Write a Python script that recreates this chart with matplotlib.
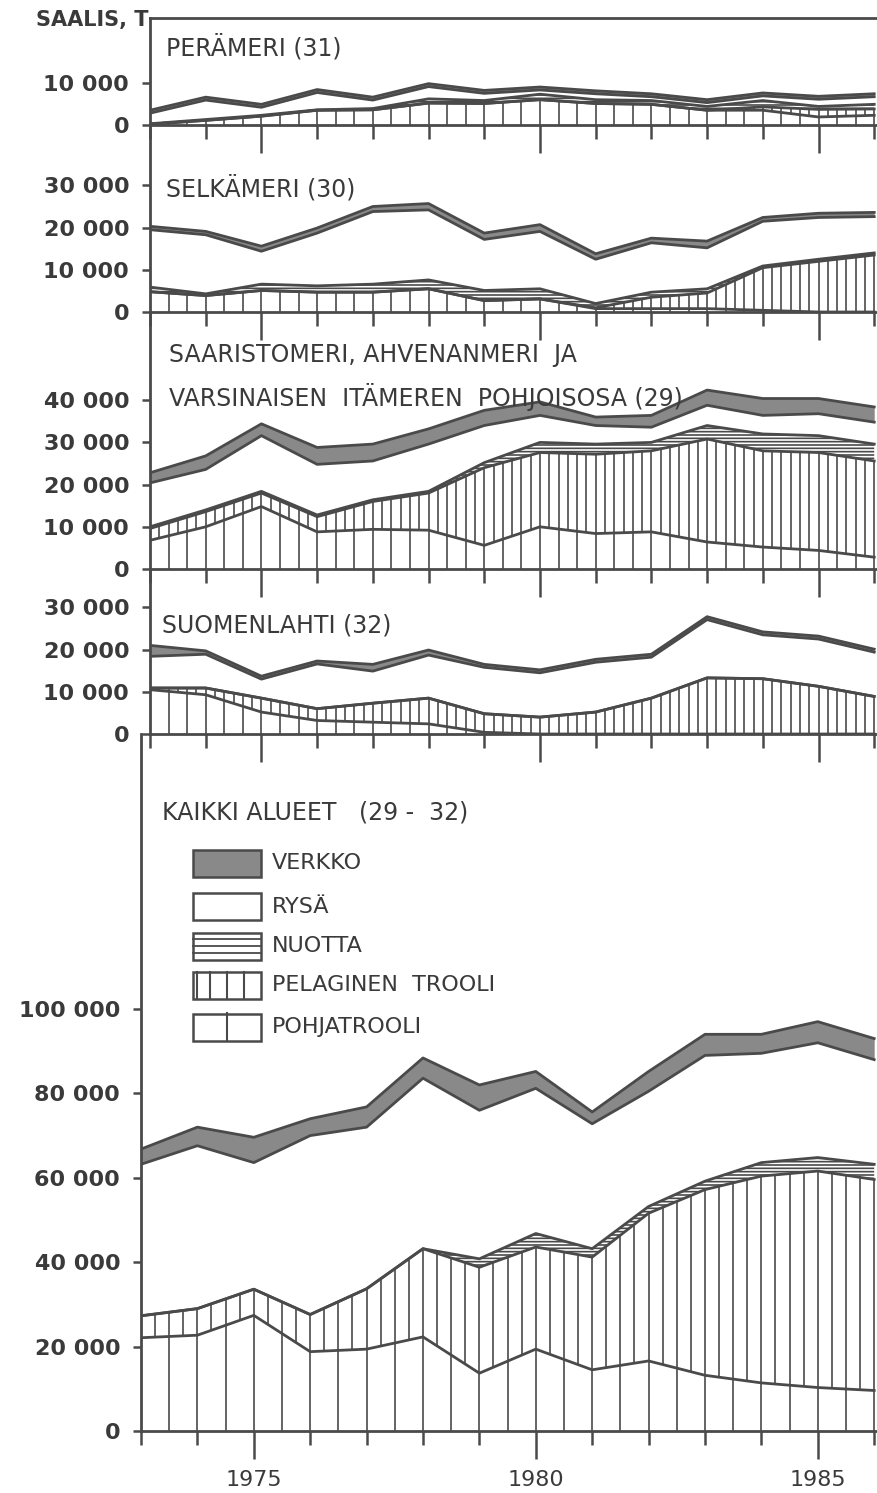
import matplotlib.pyplot as plt
import numpy as np
from matplotlib.patches import Rectangle
from matplotlib.lines import Line2D

W, H = 877, 1493
years = np.arange(1973, 1987)

# cumulative tops of the gear bands (t): pohjatrooli, pelaginen, nuotta, rysä, verkko (= total)
per_pohja = [200, 1100, 2100, 3500, 3600, 5200, 5100, 6000, 5100, 4900, 3500, 3500, 1900, 2300]
per_pelag = [200, 1100, 2100, 3500, 3600, 5200, 5100, 6000, 5100, 4900, 3500, 4300, 3700, 3800]
per_nuotta = [300, 1300, 2300, 3600, 3900, 6200, 5800, 7300, 6000, 5800, 4400, 5800, 4400, 4900]
per_rysa = [2800, 5900, 4200, 7700, 5900, 9100, 7500, 8300, 7400, 6700, 5300, 6900, 6100, 6700]
per_total = [3500, 6600, 4900, 8400, 6600, 9800, 8200, 9000, 8100, 7400, 6000, 7600, 6800, 7400]

sel_pohja = [4800, 3900, 5100, 4700, 4700, 5500, 2700, 3100, 800, 800, 800, 400, 0, 0]
sel_pelag = [4800, 3900, 5100, 4700, 4700, 5500, 2700, 3100, 1000, 3500, 4500, 10500, 12000, 13500]
sel_nuotta = [5900, 4300, 6600, 6200, 6600, 7600, 5100, 5500, 2000, 4700, 5500, 10900, 12500, 14000]
sel_rysa = [19500, 18300, 14400, 18700, 23800, 24200, 17200, 19100, 12500, 16400, 15200, 21500, 22400, 22600]
sel_total = [20300, 19100, 15600, 19900, 25000, 25700, 18700, 20700, 13800, 17500, 16800, 22400, 23400, 23600]

saa_pohja = [6800, 10000, 14800, 8800, 9400, 9200, 5600, 10000, 8400, 8800, 6400, 5200, 4400, 2800]
saa_pelag = [9600, 13600, 18000, 12400, 16000, 18000, 24000, 27600, 27200, 28000, 30800, 28000, 27600, 25600]
saa_nuotta = [10000, 14000, 18400, 12800, 16400, 18400, 25200, 30000, 29600, 30000, 34000, 32000, 31600, 29600]
saa_rysa = [20400, 23600, 31600, 24800, 25600, 29600, 34000, 36400, 34000, 33600, 38800, 36400, 36800, 34800]
saa_total = [22800, 26800, 34400, 28800, 29600, 33200, 37600, 39600, 36000, 36400, 42400, 40400, 40400, 38400]

suo_pohja = [10500, 9300, 5200, 3200, 2800, 2400, 400, 0, 0, 0, 0, 0, 0, 0]
suo_pelag = [10900, 10900, 8500, 6000, 7300, 8500, 4800, 4000, 5200, 8500, 13300, 13100, 11300, 8900]
suo_nuotta = [10900, 10900, 8500, 6000, 7300, 8500, 4800, 4000, 5200, 8500, 13300, 13100, 11300, 8900]
suo_rysa = [18400, 18900, 13000, 16600, 14900, 18700, 15800, 14500, 17000, 18200, 27100, 23500, 22500, 19400]
suo_total = [21000, 19700, 13700, 17300, 16500, 19900, 16500, 15200, 17700, 18900, 27800, 24200, 23200, 20100]

all_pohja = [22100, 22700, 27400, 18800, 19400, 22300, 13700, 19400, 14500, 16600, 13200, 11400, 10300, 9600]
all_pelag = [27300, 29000, 33600, 27600, 33700, 43200, 38800, 43600, 41200, 51600, 57200, 60400, 61600, 59600]
all_nuotta = [27300, 29000, 33600, 27600, 33700, 43200, 40800, 46800, 43200, 53200, 59200, 63600, 64800, 63200]
all_rysa = [63200, 67600, 63600, 70000, 72000, 83600, 76000, 81200, 72800, 80500, 89000, 89500, 92000, 88000]
all_total = [66800, 72000, 69600, 74000, 76800, 88400, 82000, 85200, 75600, 85200, 94000, 94000, 97000, 93000]

ink = '#4a4a4a'
net_grey = '#898989'
txt = '#3a3a3a'

plt.rcParams['font.family'] = ['DejaVu Sans']
plt.rcParams['hatch.color'] = ink
plt.rcParams['hatch.linewidth'] = 1.2

fig = plt.figure(figsize=(W / 100, H / 100), dpi=100)


def px_axes(left, top, bottom, right=W):
    return fig.add_axes([left / W, 1 - bottom / H, (right - left) / W, (bottom - top) / H])


def ftxt(x, y, s, size=17, **kw):
    fig.text(x / W, 1 - y / H, s, fontsize=size, color=txt, va='center', ha='left', **kw)


def vhatch(ax, lo, hi, step):
    xs = np.arange(1973, 1986.01, step)
    ax.vlines(xs, np.interp(xs, years, lo), np.interp(xs, years, hi), color=ink, lw=1.2)


def draw_panel(ax, pohja, pelag, nuotta, rysa, total, ymax, yticks, step, first=False):
    zero = np.zeros(len(years))
    ax.fill_between(years, rysa, total, color=net_grey, lw=0)
    ax.fill_between(years, pelag, nuotta, facecolor='white', hatch='-----', edgecolor=ink, lw=0)
    vhatch(ax, zero, pohja, step)
    vhatch(ax, pohja, pelag, step / 2)
    for b in (pohja, pelag, nuotta, rysa, total):
        ax.plot(years, b, color=ink, lw=2.0, solid_joinstyle='round')
    ax.set_xlim(1973, 1986.05)
    ax.set_ylim(0, ymax)
    ax.patch.set_visible(False)
    ax.spines['right'].set_visible(False)
    ax.spines['top'].set_visible(first)
    for s in ('left', 'bottom', 'top'):
        ax.spines[s].set_color(ink)
        ax.spines[s].set_linewidth(2.0)
    ax.set_xticks([1975, 1980, 1985])
    ax.set_xticks(years, minor=True)
    ax.tick_params(axis='x', which='major', length=20, width=1.8, color=ink, labelbottom=False)
    ax.tick_params(axis='x', which='minor', length=10, width=1.8, color=ink)
    ax.set_yticks(yticks)
    ax.set_yticklabels([f"{v:,}".replace(',', ' ') for v in yticks], fontweight='bold')
    ax.tick_params(axis='y', length=6, width=1.8, color=ink, labelsize=16, labelcolor=txt, pad=9)


k = 4.22 / 1000  # px per tonne

ax1 = px_axes(150, 18, 125)
draw_panel(ax1, per_pohja, per_pelag, per_nuotta, per_rysa, per_total, 107 / k, [0, 10000], 1 / 3, first=True)
ax2 = px_axes(150, 125, 312)
draw_panel(ax2, sel_pohja, sel_pelag, sel_nuotta, sel_rysa, sel_total, 187 / k, [0, 10000, 20000, 30000], 1 / 3)
ax3 = px_axes(150, 312, 569)
draw_panel(ax3, saa_pohja, saa_pelag, saa_nuotta, saa_rysa, saa_total, 257 / k,
           [0, 10000, 20000, 30000, 40000], 1 / 3)
ax4 = px_axes(150, 569, 734)
draw_panel(ax4, suo_pohja, suo_pelag, suo_nuotta, suo_rysa, suo_total, 165 / k, [0, 10000, 20000, 30000], 1 / 3)
ax5 = px_axes(141, 734, 1431)
draw_panel(ax5, all_pohja, all_pelag, all_nuotta, all_rysa, all_total, 697 / k,
           [0, 20000, 40000, 60000, 80000, 100000], 1 / 2)
ax5.tick_params(axis='x', which='major', labelbottom=True, labelsize=16, labelcolor=txt, pad=8)

ftxt(36, 20, 'SAALIS, T', size=15, fontweight='bold')
ftxt(166, 47, 'PERÄMERI (31)')
ftxt(166, 188, 'SELKÄMERI (30)')
ftxt(169, 355, 'SAARISTOMERI, AHVENANMERI  JA')
ftxt(169, 397, 'VARSINAISEN  ITÄMEREN  POHJOISOSA (29)')
ftxt(162, 625, 'SUOMENLAHTI (32)')
ftxt(162, 813, 'KAIKKI ALUEET   (29 -  32)')

# legend
legend_items = ['VERKKO', 'RYSÄ', 'NUOTTA', 'PELAGINEN  TROOLI', 'POHJATROOLI']
legend_y = [863, 907, 946, 985, 1027]
bx0, bw, bh = 193, 68, 27
for label, y in zip(legend_items, legend_y):
    x0, y0 = bx0 / W, 1 - (y + bh / 2) / H
    rect = Rectangle((x0, y0), bw / W, bh / H, transform=fig.transFigure, facecolor='white',
                     edgecolor=ink, lw=1.8)
    fig.patches.append(rect)
    if label == 'VERKKO':
        rect.set_facecolor(net_grey)
    elif label == 'NUOTTA':
        for f in (0.25, 0.5, 0.75):
            fig.lines.append(Line2D([x0, x0 + bw / W], [y0 + f * bh / H] * 2, transform=fig.transFigure,
                                    color=ink, lw=1.3))
    elif label.startswith('PELAGINEN'):
        for f in (0.06, 0.25, 0.5, 0.75):
            fig.lines.append(Line2D([x0 + f * bw / W] * 2, [y0, y0 + bh / H], transform=fig.transFigure,
                                    color=ink, lw=1.5))
    elif label == 'POHJATROOLI':
        fig.lines.append(Line2D([x0 + 0.5 * bw / W] * 2, [y0, y0 + bh / H], transform=fig.transFigure,
                                color=ink, lw=1.5))
    ftxt(272, y, label, size=16)

fig.savefig('out.png', dpi=100)
